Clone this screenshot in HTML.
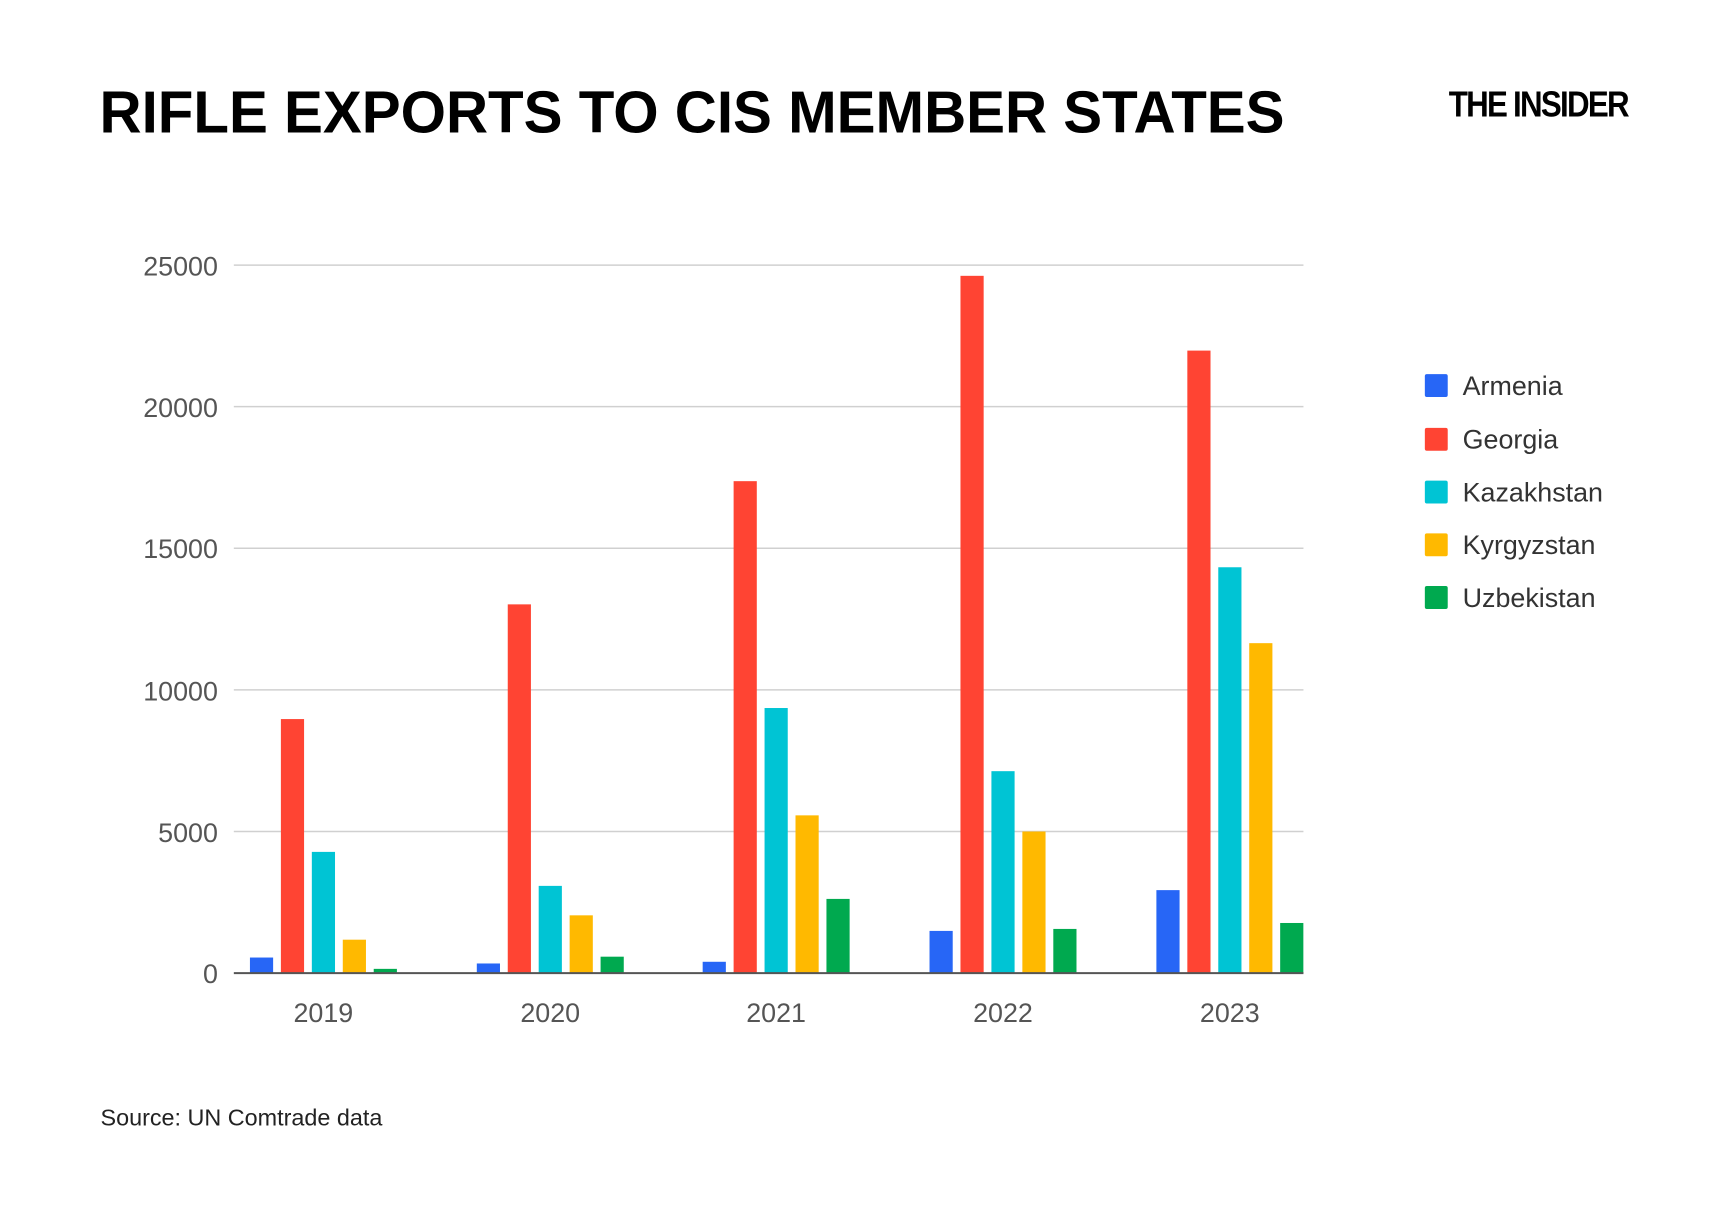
<!DOCTYPE html>
<html><head><meta charset="utf-8"><style>
html,body{margin:0;padding:0;background:#fff;}
svg{display:block;font-family:"Liberation Sans",Arial,sans-serif;}
</style></head><body>
<svg width="1732" height="1217" viewBox="0 0 1732 1217" xmlns="http://www.w3.org/2000/svg">
<rect width="1732" height="1217" fill="#fff"/>
<g transform="scale(0.995)">
<text x="100" y="133" font-size="60" font-weight="bold" fill="#000" textLength="1191" lengthAdjust="spacingAndGlyphs">RIFLE EXPORTS TO CIS MEMBER STATES</text>
<text x="1456" y="117" font-size="36" font-weight="bold" fill="#000" textLength="180" lengthAdjust="spacingAndGlyphs" letter-spacing="-2">THE INSIDER</text>
<g stroke="#d0d0d0" stroke-width="1.5">
<line x1="235" x2="1310" y1="266.4" y2="266.4"/>
<line x1="235" x2="1310" y1="408.7" y2="408.7"/>
<line x1="235" x2="1310" y1="551" y2="551"/>
<line x1="235" x2="1310" y1="693.4" y2="693.4"/>
<line x1="235" x2="1310" y1="835.7" y2="835.7"/>
</g>
<g font-size="27" fill="#555" text-anchor="end">
<text x="219" y="277">25000</text>
<text x="219" y="419">20000</text>
<text x="219" y="561">15000</text>
<text x="219" y="704">10000</text>
<text x="219" y="846">5000</text>
<text x="219" y="988">0</text>
</g>
<g font-size="27" fill="#555" text-anchor="middle">
<text x="325" y="1027">2019</text>
<text x="553" y="1027">2020</text>
<text x="780" y="1027">2021</text>
<text x="1008" y="1027">2022</text>
<text x="1236" y="1027">2023</text>
</g>
<g id="bars"></g>
<line x1="235" x2="1310" y1="978" y2="978" stroke="#555" stroke-width="2"/>
<g font-size="27" fill="#333">
<rect x="1432" y="376" width="23" height="23" rx="2" fill="#2766f6"/><text x="1470" y="397">Armenia</text>
<rect x="1432" y="430" width="23" height="23" rx="2" fill="#ff4433"/><text x="1470" y="451">Georgia</text>
<rect x="1432" y="483" width="23" height="23" rx="2" fill="#00c4d4"/><text x="1470" y="504">Kazakhstan</text>
<rect x="1432" y="536" width="23" height="23" rx="2" fill="#ffb900"/><text x="1470" y="557">Kyrgyzstan</text>
<rect x="1432" y="589" width="23" height="23" rx="2" fill="#00a94f"/><text x="1470" y="610">Uzbekistan</text>
</g>
<text x="101" y="1131" font-size="23.5" fill="#222">Source: UN Comtrade data</text>
</g>
<script>
var d=[[550,8970,4280,1180,150],[340,13020,3080,2040,580],[400,17370,9360,5570,2620],[1490,24620,7130,5000,1560],[2930,21980,14330,11650,1770]];
var c=["#2766f6","#ff4433","#00c4d4","#ffb900","#00a94f"];
var centers=[325,553,780,1008,1236];
var g=document.getElementById("bars"),ns="http://www.w3.org/2000/svg";
for(var i=0;i<5;i++)for(var j=0;j<5;j++){var h=d[i][j]/25000*711.6;var r=document.createElementNS(ns,"rect");
r.setAttribute("x",centers[i]-73.8+j*31.1);r.setAttribute("y",978-h);r.setAttribute("width",23.3);r.setAttribute("height",h);r.setAttribute("fill",c[j]);g.appendChild(r);}
</script>
</svg>
</body></html>
